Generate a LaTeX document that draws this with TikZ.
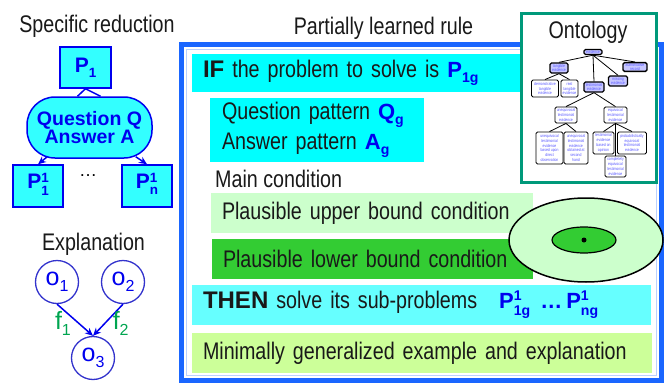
\documentclass[tikz,border=0pt]{standalone}
\usepackage{fontspec}
\setmainfont{Liberation Sans}
\newfontfamily\narrow{Liberation Sans}[FakeStretch=0.82]
\usetikzlibrary{arrows.meta,shapes.geometric,positioning}

\definecolor{ruleblue}{HTML}{1A66FF}
\definecolor{boxcyan}{HTML}{33FFFF}
\definecolor{ifcyan}{HTML}{00FFFF}
\definecolor{thencyan}{HTML}{66FFFF}
\definecolor{upgreen}{HTML}{CCFFCC}
\definecolor{lowgreen}{HTML}{33CC33}
\definecolor{exgreen}{HTML}{CCFF99}
\definecolor{ontgreen}{HTML}{00997A}
\definecolor{fgreen}{HTML}{00A550}
\definecolor{pblue}{HTML}{0000EE}
\definecolor{circblue}{HTML}{3333CC}

\newcommand\lowi[1]{\raisebox{-.25em}{\scalebox{.64}{#1}}}
\newcommand\updn[2]{\raisebox{-.3em}{\scalebox{.64}{\def\arraystretch{.78}\begin{tabular}[b]{@{}l@{}}#1\\#2\end{tabular}}}}
\newcommand\kw[1]{{\rmfamily\bfseries #1}}
\newcommand\pbold[1]{{\rmfamily\bfseries\fontsize{22}{30}\selectfont\color{pblue}#1}}

\tikzset{
  title/.style={inner sep=0, font=\narrow\fontsize{24}{28}\selectfont, text=black!90},
  rowbox/.style={inner xsep=11, inner ysep=0, align=left, text=black!90,
    font=\narrow\fontsize{24}{30}\selectfont},
  pbox/.style={draw=pblue, line width=1.5, fill=boxcyan, text=pblue, inner sep=0,
    font=\bfseries\fontsize{21}{24}\selectfont},
  qabox/.style={pbox, align=center, minimum width=125, minimum height=61,
    rounded corners=28, font=\bfseries\fontsize{19.5}{17}\selectfont},
  plink/.style={pblue, line width=1.5},
  parrow/.style={plink, -{Stealth[length=8pt,width=7pt]}},
  obj/.style={circle, draw=circblue, line width=1.3, minimum size=43, inner sep=0,
    text=pblue, font=\fontsize{25}{25}\selectfont},
  flab/.style={text=fgreen, font=\fontsize{25}{25}\selectfont, inner sep=0},
  ont/.style={draw, line width=0.9, rounded corners=1.5, fill=white, text=blue!65,
    inner sep=0.4, align=center, font=\narrow\fontsize{4.2}{4.8}\selectfont},
  ontf/.style={ont, line width=1.4, fill=blue!22},
  ontline/.style={line width=0.8}
}

\begin{document}
\begin{tikzpicture}[x=1pt, y=-1pt]
  \useasboundingbox (0,0) rectangle (665,383);

  % Titles
  \node[title, anchor=base] (tspec) at (97,32) {Specific reduction};
  \node[title, anchor=base] (trule) at (383.5,34) {Partially learned rule};
  \node[title, anchor=base] (texpl) at (93.5,250) {Explanation};

  % Rule frame
  \draw[ruleblue, line width=5] (181.5,44.5) rectangle (661.5,380.5);
  \draw[ruleblue!30, line width=1.2] (186.5,49.5) rectangle (656.5,375.5);

  % Rule rows
  \node[rowbox, fill=ifcyan, minimum height=38, text width=308] (rif) at (357,73)
    {\kw{IF} the problem to solve is \pbold{P\lowi{1g}}};
  \node[rowbox, fill=ifcyan, inner xsep=12, minimum height=64, text width=190] (rqa) at (317,130)
    {Question pattern \pbold{Q\lowi{g}}\\Answer pattern \pbold{A\lowi{g}}};
  \node[title, anchor=base west] (rmain) at (215,187) {Main condition};
  \node[rowbox, fill=upgreen, minimum height=40, text width=300] (rup) at (372,213)
    {Plausible upper bound condition};
  \node[rowbox, fill=lowgreen, minimum height=40, text width=299] (rlow) at (372.5,259)
    {Plausible lower bound condition};
  \node[rowbox, fill=thencyan, minimum height=40, text width=437] (rthen) at (421.5,305)
    {\kw{THEN} solve its sub-problems\hspace{22pt}\pbold{P\updn{1}{1g}\hspace{10pt}\ldots\hspace{4pt}P\updn{1}{ng}}};
  \node[rowbox, fill=exgreen, minimum height=40, text width=438] (rex) at (422,353)
    {Minimally generalized example and explanation};

  % Bounds
  \node[ellipse, draw, line width=1.5, fill=upgreen, minimum width=154, minimum height=84] (eup) at (586,240) {};
  \node[ellipse, draw, line width=1.2, fill=lowgreen, minimum width=64, minimum height=26] (elow) at (584,240) {};
  \fill (elow.center) circle (2.5);

  % Ontology
  \node[draw=ontgreen, line width=3, fill=white, minimum width=135, minimum height=169, inner sep=0] (ontframe) at (588.5,97.5) {};
  \node[title, anchor=base] (tont) at (588,38) {Ontology};
  \node[ontf, minimum width=18, minimum height=5] (ev) at (593,52) {evidence};
  \node[ontf, minimum width=18, minimum height=10] (tang) at (559,68) {tangible\\evidence};
  \node[ontf, minimum width=24, minimum height=8] (auth) at (635,67) {authoritative\\record};
  \node[ontf, minimum width=19, minimum height=10] (miss) at (618,81) {missing\\evidence};
  \node[ontf, minimum width=20, minimum height=10] (test) at (594,87) {testimonial\\evidence};
  \node[ont, minimum width=27, minimum height=17] (demo) at (545,88.5) {demonstrative\\tangible\\evidence};
  \node[ont, minimum width=17, minimum height=17] (real) at (569.5,88.5) {real\\tangible\\evidence};
  \node[ont, minimum width=22, minimum height=16] (uneq) at (566,115) {unequivocal\\testimonial\\evidence};
  \node[ont, minimum width=23, minimum height=16] (equi) at (615.5,115) {equivocal\\testimonial\\evidence};
  \node[ont, minimum width=27, minimum height=32] (direct) at (549.5,148) {unequivocal\\testimonial\\evidence\\based upon\\direct\\observation};
  \node[ont, minimum width=24, minimum height=32] (second) at (576,148) {unequivocal\\testimonial\\evidence\\obtained at\\second\\hand};
  \node[ont, minimum width=21, minimum height=22] (opin) at (603.5,143) {testimonial\\evidence\\based on\\opinion};
  \node[ont, minimum width=29, minimum height=22] (prob) at (632,143) {probabilistically\\equivocal\\testimonial\\evidence};
  \node[ont, minimum width=21, minimum height=21] (comp) at (615.5,166.5) {completely\\equivocal\\testimonial\\evidence};

  \foreach \kid in {tang,test,miss,auth} \draw[ontline] (ev.south) -- (\kid.north);
  \foreach \kid in {demo,real} \draw[ontline] (tang.south) -- (\kid.north);
  \foreach \kid in {uneq,equi} \draw[ontline] (test.south) -- (\kid.north);
  \foreach \kid in {direct,second} \draw[ontline] (uneq.south) -- (\kid.north);
  \foreach \kid in {opin,prob,comp} \draw[ontline] (equi.south) -- (\kid.north);

  % Specific reduction
  \node[pbox, minimum width=51, minimum height=41] (p1) at (85.5,67.5) {P\lowi{1}};
  \node[qabox] (qa) at (89.5,127.5) {Question Q\\Answer A};
  \node[pbox, minimum width=50, minimum height=42] (pa) at (38,186) {P\updn{1}{1}};
  \node[pbox, minimum width=50, minimum height=42] (pb) at (147,186) {P\updn{1}{n}};
  \node[anchor=base, inner sep=0, font=\fontsize{18}{18}\selectfont] (pdots) at (88,176) {\ldots};

  \draw[plink] (p1.south) -- ([xshift=-12]qa.north);
  \draw[plink] (p1.south) -- ([xshift=11]qa.north);
  \draw[parrow] ([xshift=21,yshift=2]qa.south west) -- (pa.north);
  \draw[parrow] ([xshift=-17,yshift=2]qa.south east) -- (pb.north);

  % Explanation
  \node[obj] (o1) at (57,282) {o\lowi{1}};
  \node[obj] (o2) at (123,282) {o\lowi{2}};
  \node[obj] (o3) at (93,358) {o\lowi{3}};
  \draw[parrow] (o1.south) -- node[flab, left=7pt, pos=.6] {f\lowi{1}} (o3.north);
  \draw[parrow] (o2.south) -- node[flab, right=7pt, pos=.6] {f\lowi{2}} (o3.north);

\end{tikzpicture}
\end{document}
